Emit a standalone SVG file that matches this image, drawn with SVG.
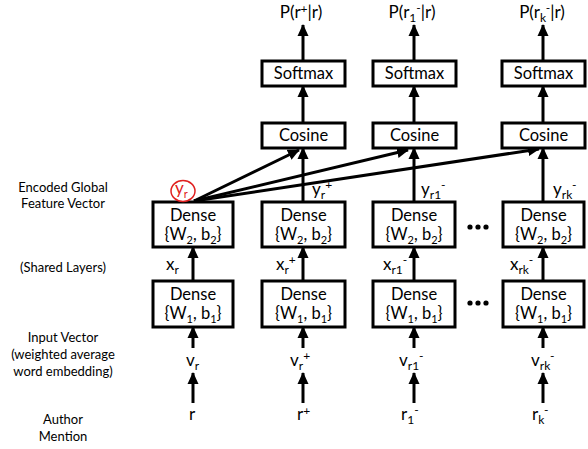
<svg xmlns="http://www.w3.org/2000/svg" width="588" height="449" viewBox="0 0 588 449">
<defs>
<marker id="ah" markerUnits="userSpaceOnUse" markerWidth="12" markerHeight="12" viewBox="0 0 12 12" refX="11" refY="6" orient="auto">
<path d="M0,0.5 L12,6 L0,11.5 Z" fill="#000"/>
</marker>
<style>
.box{fill:#fff;stroke:#000;stroke-width:3}
.t{font-family:Lato,"Open Sans","Liberation Sans",sans-serif;font-size:16.5px;fill:#000}
.v{font-family:Lato,"Open Sans","Liberation Sans",sans-serif;font-size:17px;fill:#000}
.c{text-anchor:middle}
.l{font-family:Lato,"Open Sans","Liberation Sans",sans-serif;font-size:13px;fill:#000;text-anchor:middle}
.s{font-size:11px}
.u{font-size:12px}
.a{stroke:#000;stroke-width:3;fill:none;marker-end:url(#ah)}
</style>
</defs>
<rect width="588" height="449" fill="#fff"/>

<g id="left-labels">
<text class="l" x="63" y="192">Encoded Global</text>
<text class="l" x="63" y="208">Feature Vector</text>
<text class="l" x="63" y="272">(Shared Layers)</text>
<text class="l" x="63" y="342">Input Vector</text>
<text class="l" x="63" y="359">(weighted average</text>
<text class="l" x="63" y="376">word embedding)</text>
<text class="l" x="63" y="424">Author</text>
<text class="l" x="63" y="441">Mention</text>
</g>

<g id="connectors">
<line class="a" x1="303" y1="61" x2="303" y2="25"/>
<line class="a" x1="414" y1="61" x2="414" y2="25"/>
<line class="a" x1="543" y1="61" x2="543" y2="25"/>
<line class="a" x1="303" y1="123" x2="303" y2="86"/>
<line class="a" x1="414" y1="123" x2="414" y2="86"/>
<line class="a" x1="543" y1="123" x2="543" y2="86"/>
<line class="a" x1="303" y1="202" x2="303" y2="148"/>
<line class="a" x1="414" y1="202" x2="414" y2="148"/>
<line class="a" x1="543" y1="202" x2="543" y2="148"/>
<line class="a" x1="194" y1="201" x2="299" y2="150"/>
<line class="a" x1="194" y1="201" x2="408" y2="150"/>
<line class="a" x1="194" y1="201" x2="539" y2="149"/>
<line class="a" x1="193" y1="281" x2="193" y2="247"/>
<line class="a" x1="303" y1="281" x2="303" y2="247"/>
<line class="a" x1="414" y1="281" x2="414" y2="247"/>
<line class="a" x1="543" y1="281" x2="543" y2="247"/>
<line class="a" x1="193" y1="348" x2="193" y2="327"/>
<line class="a" x1="303" y1="348" x2="303" y2="327"/>
<line class="a" x1="414" y1="348" x2="414" y2="327"/>
<line class="a" x1="543" y1="348" x2="543" y2="327"/>
<line class="a" x1="193" y1="403" x2="193" y2="373"/>
<line class="a" x1="303" y1="403" x2="303" y2="373"/>
<line class="a" x1="414" y1="403" x2="414" y2="373"/>
<line class="a" x1="543" y1="403" x2="543" y2="373"/>
</g>

<g id="outputs">
<text class="v c" x="301" y="18">P(r<tspan class="u" dy="-5">+</tspan><tspan dy="5">|r)</tspan></text>
<text class="v c" x="412" y="18">P(r<tspan class="u" dy="4">1</tspan><tspan class="u" dy="-10">-</tspan><tspan dy="6">|r)</tspan></text>
<text class="v c" x="542" y="18">P(r<tspan class="u" dy="4">k</tspan><tspan class="u" dy="-10">-</tspan><tspan dy="6">|r)</tspan></text>
</g>

<g id="softmax-1"><rect class="box" x="262" y="61" width="83" height="25"/><text class="t c" x="303.5" y="79">Softmax</text></g>
<g id="softmax-2"><rect class="box" x="373" y="61" width="83" height="25"/><text class="t c" x="414.5" y="79">Softmax</text></g>
<g id="softmax-3"><rect class="box" x="502" y="61" width="83" height="25"/><text class="t c" x="543.5" y="79">Softmax</text></g>

<g id="cosine-1"><rect class="box" x="262" y="123" width="83" height="25"/><text class="t c" x="303.5" y="141">Cosine</text></g>
<g id="cosine-2"><rect class="box" x="373" y="123" width="83" height="25"/><text class="t c" x="414.5" y="141">Cosine</text></g>
<g id="cosine-3"><rect class="box" x="502" y="123" width="83" height="25"/><text class="t c" x="543.5" y="141">Cosine</text></g>

<g id="dense2-1"><rect class="box" x="153" y="202" width="80" height="45"/><text class="t c" x="193" y="221">Dense</text><text class="t c" x="193" y="240">{W<tspan class="s" dy="4">2</tspan><tspan dy="-4">, b</tspan><tspan class="s" dy="4">2</tspan><tspan dy="-4">}</tspan></text></g>
<g id="dense2-2"><rect class="box" x="262" y="202" width="83" height="45"/><text class="t c" x="303.5" y="221">Dense</text><text class="t c" x="303.5" y="240">{W<tspan class="s" dy="4">2</tspan><tspan dy="-4">, b</tspan><tspan class="s" dy="4">2</tspan><tspan dy="-4">}</tspan></text></g>
<g id="dense2-3"><rect class="box" x="373" y="202" width="82" height="45"/><text class="t c" x="414" y="221">Dense</text><text class="t c" x="414" y="240">{W<tspan class="s" dy="4">2</tspan><tspan dy="-4">, b</tspan><tspan class="s" dy="4">2</tspan><tspan dy="-4">}</tspan></text></g>
<g id="dense2-4"><rect class="box" x="503" y="202" width="81" height="45"/><text class="t c" x="543.5" y="221">Dense</text><text class="t c" x="543.5" y="240">{W<tspan class="s" dy="4">2</tspan><tspan dy="-4">, b</tspan><tspan class="s" dy="4">2</tspan><tspan dy="-4">}</tspan></text></g>

<g id="dense1-1"><rect class="box" x="153" y="281" width="80" height="46"/><text class="t c" x="193" y="300">Dense</text><text class="t c" x="193" y="319">{W<tspan class="s" dy="4">1</tspan><tspan dy="-4">, b</tspan><tspan class="s" dy="4">1</tspan><tspan dy="-4">}</tspan></text></g>
<g id="dense1-2"><rect class="box" x="262" y="281" width="83" height="46"/><text class="t c" x="303.5" y="300">Dense</text><text class="t c" x="303.5" y="319">{W<tspan class="s" dy="4">1</tspan><tspan dy="-4">, b</tspan><tspan class="s" dy="4">1</tspan><tspan dy="-4">}</tspan></text></g>
<g id="dense1-3"><rect class="box" x="373" y="281" width="82" height="46"/><text class="t c" x="414" y="300">Dense</text><text class="t c" x="414" y="319">{W<tspan class="s" dy="4">1</tspan><tspan dy="-4">, b</tspan><tspan class="s" dy="4">1</tspan><tspan dy="-4">}</tspan></text></g>
<g id="dense1-4"><rect class="box" x="503" y="281" width="81" height="46"/><text class="t c" x="543.5" y="300">Dense</text><text class="t c" x="543.5" y="319">{W<tspan class="s" dy="4">1</tspan><tspan dy="-4">, b</tspan><tspan class="s" dy="4">1</tspan><tspan dy="-4">}</tspan></text></g>

<g id="ellipsis">
<circle cx="470" cy="227" r="2.6"/><circle cx="478" cy="227" r="2.6"/><circle cx="486" cy="227" r="2.6"/>
<circle cx="470" cy="303" r="2.6"/><circle cx="478" cy="303" r="2.6"/><circle cx="486" cy="303" r="2.6"/>
</g>

<g id="y-labels">
<ellipse cx="183" cy="191" rx="12" ry="10.5" fill="#fff" stroke="#e02020" stroke-width="1.5"/>
<text class="v" x="175" y="194" style="fill:#e02020">y<tspan class="s" dy="4">r</tspan></text>
<text class="v" x="312" y="195">y<tspan class="u" dy="4">r</tspan><tspan class="u" dy="-10">+</tspan></text>
<text class="v" x="421" y="195">y<tspan class="u" dy="4">r1</tspan><tspan class="u" dy="-10">-</tspan></text>
<text class="v" x="553" y="195">y<tspan class="u" dy="4">rk</tspan><tspan class="u" dy="-10">-</tspan></text>
</g>

<g id="x-labels">
<text class="v" x="166" y="270">x<tspan class="u" dy="4">r</tspan></text>
<text class="v" x="276" y="270">x<tspan class="u" dy="4">r</tspan><tspan class="u" dy="-10">+</tspan></text>
<text class="v" x="383" y="270">x<tspan class="u" dy="4">r1</tspan><tspan class="u" dy="-10">-</tspan></text>
<text class="v" x="510" y="270">x<tspan class="u" dy="4">rk</tspan><tspan class="u" dy="-10">-</tspan></text>
</g>

<g id="v-labels">
<text class="v" x="186" y="366">v<tspan class="u" dy="4">r</tspan></text>
<text class="v" x="290" y="366">v<tspan class="u" dy="4">r</tspan><tspan class="u" dy="-10">+</tspan></text>
<text class="v" x="399" y="366">v<tspan class="u" dy="4">r1</tspan><tspan class="u" dy="-10">-</tspan></text>
<text class="v" x="531" y="366">v<tspan class="u" dy="4">rk</tspan><tspan class="u" dy="-10">-</tspan></text>
</g>

<g id="r-labels">
<text class="v" x="189" y="420">r</text>
<text class="v" x="297" y="420">r<tspan class="u" dy="-5">+</tspan></text>
<text class="v" x="401" y="420">r<tspan class="u" dy="4">1</tspan><tspan class="u" dy="-10">-</tspan></text>
<text class="v" x="532" y="420">r<tspan class="u" dy="4">k</tspan><tspan class="u" dy="-10">-</tspan></text>
</g>
</svg>
